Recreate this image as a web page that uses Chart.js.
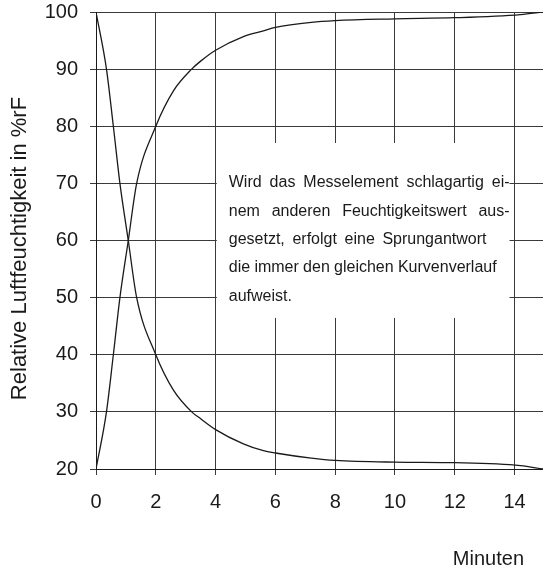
<!DOCTYPE html>
<html>
<head>
<meta charset="utf-8">
<script src="https://cdn.jsdelivr.net/npm/chart.js@4"></script>
<style>
  html, body { margin: 0; padding: 0; background: #fff; overflow: hidden; }
  #wrap { width: 543px; height: 575px; }
</style>
</head>
<body>
<div id="wrap"><canvas id="c" width="543" height="575"></canvas></div>
<script>
// ---- data ----
const minutes = [0, 0.35, 0.58, 0.8, 1.08, 1.36, 2.0, 2.59, 3.2, 3.5, 4.0, 4.93, 5.6, 6.0, 7.2, 8.0, 10.0, 12.0, 14.2, 14.95];
const falling = [100, 90, 80, 70, 60, 50, 40, 33.8, 30, 28.8, 26.9, 24.4, 23.2, 22.8, 21.9, 21.5, 21.2, 21.1, 20.6, 20];
const rising  = [20, 30, 40, 50, 60, 70, 80, 86.2, 90, 91.4, 93.3, 95.7, 96.7, 97.3, 98.2, 98.5, 98.8, 99.0, 99.55, 100];
const xTickStep = 2;
const yTickStep = 10;
const yTitle = 'Relative Luftfeuchtigkeit in %rF';
const xTitle = 'Minuten';
const noteLines = [
  'Wird das Messelement schlagartig ei-',
  'nem anderen Feuchtigkeitswert aus-',
  'gesetzt, erfolgt eine Sprungantwort',
  'die immer den gleichen Kurvenverlauf',
  'aufweist.'
];

const FONT = "'Liberation Sans', Arial, Helvetica, sans-serif";

// annotation box (in data coordinates)
const noteBox = { x0: 4.04, x1: 13.83, y0: 77.07, y1: 46.45 };
const noteText = { x: 4.44, ys: [70.1, 65.1, 60.1, 55.2, 50.2], right: [13.83, 13.83, 13.06, 13.4, null] };

const notePlugin = {
  id: 'note',
  beforeDatasetsDraw(chart) {
    const { ctx, scales: { x, y } } = chart;
    ctx.save();
    const l = x.getPixelForValue(noteBox.x0), r = x.getPixelForValue(noteBox.x1);
    const t = y.getPixelForValue(noteBox.y0), b = y.getPixelForValue(noteBox.y1);
    ctx.fillStyle = '#ffffff';
    ctx.fillRect(l, t, r - l, b - t);
    ctx.fillStyle = '#1a1a1a';
    ctx.font = '16px ' + FONT;
    ctx.textBaseline = 'middle';
    ctx.textAlign = 'left';
    const lx = x.getPixelForValue(noteText.x);
    noteLines.forEach((line, i) => {
      const py = y.getPixelForValue(noteText.ys[i]);
      const words = line.split(' ');
      const rv = noteText.right[i];
      if (rv === null || words.length < 2) {
        ctx.fillText(line, lx, py);
        return;
      }
      const target = x.getPixelForValue(rv) - lx;
      const wordsW = words.reduce((s, w) => s + ctx.measureText(w).width, 0);
      const gap = (target - wordsW) / (words.length - 1);
      let cx = lx;
      words.forEach(w => {
        ctx.fillText(w, cx, py);
        cx += ctx.measureText(w).width + gap;
      });
    });
    ctx.restore();
  },
  afterDraw(chart) {
    const { ctx, chartArea } = chart;
    ctx.save();
    ctx.fillStyle = '#1a1a1a';
    ctx.font = '20px ' + FONT;
    ctx.textAlign = 'right';
    ctx.textBaseline = 'alphabetic';
    ctx.fillText(xTitle, chartArea.right - 19, chartArea.bottom + 96);
    // y axis title
    ctx.font = '22px ' + FONT;
    ctx.textAlign = 'center';
    ctx.textBaseline = 'middle';
    ctx.translate(20, (chartArea.top + chartArea.bottom) / 2 + 8);
    ctx.rotate(-Math.PI / 2);
    ctx.fillText(yTitle, 0, 0);
    ctx.restore();
  }
};

const ds = (vals) => ({
  data: minutes.map((m, i) => ({ x: m, y: vals[i] })),
  borderColor: '#1a1a1a',
  borderWidth: 1.3,
  pointRadius: 0,
  fill: false,
  cubicInterpolationMode: 'monotone'
});

new Chart(document.getElementById('c'), {
  type: 'line',
  data: { datasets: [ds(falling), ds(rising)] },
  plugins: [notePlugin],
  options: {
    responsive: false,
    animation: false,
    layout: { padding: { top: 12, right: 0, left: 0, bottom: 0 } },
    plugins: { legend: { display: false }, tooltip: { enabled: false } },
    scales: {
      x: {
        type: 'linear',
        min: 0,
        max: 14.95,
        afterFit(s) { s.height = 106; s.paddingLeft = 0; s.paddingRight = 0; },
        ticks: {
          stepSize: xTickStep,
          includeBounds: false,
          padding: 15,
          color: '#1a1a1a',
          font: { family: FONT, size: 20 },
          maxRotation: 0
        },
        grid: { color: '#3a3a3a', lineWidth: 1, tickLength: 6, tickColor: '#3a3a3a' },
        border: { display: true, color: '#1a1a1a', width: 1 }
      },
      y: {
        type: 'linear',
        min: 20,
        max: 100,
        afterFit(s) { s.width = 96; s.paddingTop = 0; s.paddingBottom = 0; },
        ticks: {
          stepSize: yTickStep,
          padding: 12,
          color: '#1a1a1a',
          font: { family: FONT, size: 20 }
        },
        grid: { color: '#3a3a3a', lineWidth: 1, tickLength: 6, tickColor: '#3a3a3a' },
        border: { display: true, color: '#1a1a1a', width: 1 }
      }
    }
  }
});
</script>
</body>
</html>
